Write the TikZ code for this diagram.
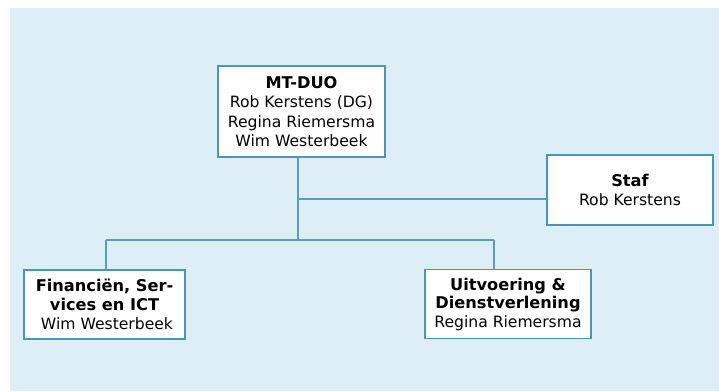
\documentclass[tikz,border=0pt]{standalone}
\usepackage{fontspec}
\setmainfont{DejaVu Sans}
\definecolor{bgblue}{HTML}{DEEEF6}
\definecolor{edgeblue}{HTML}{4A96B4}
\definecolor{lineblue}{HTML}{5A9EBA}
\newcommand{\hd}[1]{{\fontsize{16.2}{19.5}\selectfont\bfseries #1}}
\begin{document}
\begin{tikzpicture}[x=1pt,y=-1pt,
  orgbox/.style={draw=edgeblue, line width=1.6pt, fill=white, align=center,
    font=\fontsize{15.6}{19.5}\selectfont, inner sep=1pt},
  conn/.style={draw=lineblue, line width=1.6pt}]
\useasboundingbox (0,0) rectangle (719,391);
\fill[bgblue] (10,8) rectangle (719,391);
\node[orgbox, minimum width=167pt, minimum height=91pt] (mt) at (301.5,111.5)
  {\hd{MT-DUO}\\Rob Kerstens (DG)\\Regina Riemersma\\Wim Westerbeek};
\node[orgbox, minimum width=166pt, minimum height=70pt] (staf) at (630,190)
  {\hd{Staf}\\Rob Kerstens};
\node[orgbox, minimum width=161pt, minimum height=69pt,
  font=\fontsize{15.6}{19}\selectfont] (fin) at (104.5,304.5)
  {\hd{Financiën, Ser-}\\\hd{vices en ICT}\\\ Wim Westerbeek};
\node[orgbox, minimum width=166pt, minimum height=69pt,
  font=\fontsize{15.6}{18.5}\selectfont] (ui) at (508,304)
  {\hd{Uitvoering \&}\\\hd{Dienstverlening}\\Regina Riemersma};
\coordinate (j1) at (298,199);
\coordinate (j2) at (298,240);
\coordinate (j4) at (106,240);
\coordinate (j3) at (494,240);
\draw[conn] (mt.south -| j1) -- (j2);
\draw[conn] (j1) -- (staf.west |- j1);
\draw[conn] (j4) -- (j3);
\draw[conn] (j4) -- (fin.north -| j4);
\draw[conn] (j3) -- (ui.north -| j3);
\end{tikzpicture}
\end{document}
